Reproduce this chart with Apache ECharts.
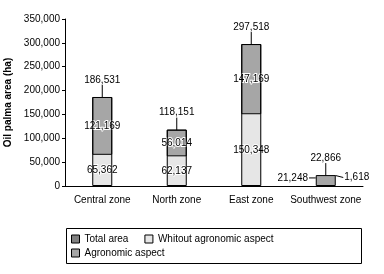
<!DOCTYPE html>
<html lang="en">
<head>
<meta charset="UTF-8">
<title>Oil palma area</title>
<style>
  html, body { margin: 0; padding: 0; background: #fff; }
  #main { width: 384px; height: 274px; }
</style>
</head>
<body>
<div id="main"></div>
<script src="https://cdn.jsdelivr.net/npm/echarts@6/dist/echarts.min.js"></script>
<script>
// data
var zones = ['Central zone', 'North zone', 'East zone', 'Southwest zone'];
var totalArea = [186531, 118151, 297518, 22866];
var withoutAgro = [65362, 62137, 150348, 21248];
var agro = [121169, 56014, 147169, 1618];

var FONT = "'Liberation Sans', Arial, sans-serif";
function fmt(v) { return v.toLocaleString('en-US'); }

// southwest segments sit behind the total bar, only their labels show
function segData(arr) {
    return arr.map(function (v, i) {
        if (i === 3) {
            return { value: v, itemStyle: { color: 'rgba(0,0,0,0)', borderColor: 'rgba(0,0,0,0)' } };
        }
        return v;
    });
}

// total bar is only an outline over the stacks, filled for southwest
var totalData = totalArea.map(function (v, i) {
    if (i === 3) return { value: v, itemStyle: { color: '#a6a6a6' } };
    return v;
});

var inLabel = {
    show: true,
    position: 'inside',
    fontFamily: FONT,
    fontSize: 10,
    color: '#000',
    textBorderColor: '#fff',
    textBorderWidth: 2,
    formatter: function (p) { return fmt(p.value); }
};

var chart = echarts.init(document.getElementById('main'));
var option = {
    animation: false,
    textStyle: { fontFamily: FONT },
    grid: { left: 65, right: 21, top: 19, bottom: 88, containLabel: false, outerBoundsMode: 'none' },
    xAxis: {
        type: 'category',
        data: zones,
        axisLine: { lineStyle: { color: '#000', width: 1 } },
        axisTick: { length: 4, lineStyle: { color: '#000' } },
        axisLabel: { color: '#000', fontSize: 10, margin: 9, interval: 0, fontFamily: FONT }
    },
    yAxis: {
        type: 'value',
        min: 0,
        max: 350000,
        interval: 50000,
        name: 'Oil palma area (ha)',
        nameLocation: 'middle',
        nameGap: 44,
        nameTextStyle: { color: '#000', fontWeight: 'bold', fontSize: 10, fontFamily: FONT },
        splitLine: { show: false },
        axisLine: { show: true, lineStyle: { color: '#000', width: 1 } },
        axisTick: { show: true, length: 3, lineStyle: { color: '#000' } },
        axisLabel: {
            color: '#000', fontSize: 10, margin: 5, fontFamily: FONT,
            formatter: function (v) { return fmt(v); }
        }
    },
    graphic: [{
        type: 'rect',
        shape: { x: 66.5, y: 228.5, width: 295, height: 35 },
        style: { fill: 'none', stroke: '#000', lineWidth: 1 }
    }],
    legend: [
        {
            left: 71,
            top: 234,
            padding: 0,
            icon: 'rect',
            itemWidth: 8,
            itemHeight: 8,
            itemGap: 16,
            selectedMode: false,
            textStyle: { color: '#000', fontSize: 10, fontFamily: FONT },
            data: [
                { name: 'Total area', itemStyle: { color: '#808080', borderColor: '#000', borderWidth: 1 } },
                { name: 'Whitout agronomic aspect', itemStyle: { color: '#e6e6e6', borderColor: '#000', borderWidth: 1 } }
            ]
        },
        {
            left: 71,
            top: 248,
            padding: 0,
            icon: 'rect',
            itemWidth: 8,
            itemHeight: 8,
            selectedMode: false,
            textStyle: { color: '#000', fontSize: 10, fontFamily: FONT },
            data: [
                { name: 'Agronomic aspect', itemStyle: { color: '#a6a6a6', borderColor: '#000', borderWidth: 1 } }
            ]
        }
    ],
    series: [
        {
            name: 'Whitout agronomic aspect',
            type: 'bar',
            stack: 'area',
            barWidth: 20,
            barGap: '-100%',
            data: segData(withoutAgro),
            itemStyle: { color: '#e6e6e6', borderWidth: 0 },
            label: inLabel,
            labelLayout: function (p) {
                if (p.dataIndex === 3) return { dx: -33, dy: -3 };
                return {};
            },
            labelLine: { show: true, lineStyle: { color: '#000', width: 1 } }
        },
        {
            name: 'Agronomic aspect',
            type: 'bar',
            stack: 'area',
            barWidth: 20,
            barGap: '-100%',
            data: segData(agro),
            itemStyle: { color: '#a6a6a6', borderColor: '#000', borderWidth: 1 },
            label: inLabel,
            labelLayout: function (p) {
                if (p.dataIndex === 3) return { dx: 31, dy: 2 };
                return {};
            },
            labelLine: { show: true, lineStyle: { color: '#000', width: 1 } }
        },
        {
            name: 'Total area',
            type: 'bar',
            barWidth: 20,
            barGap: '-100%',
            z: 3,
            data: totalData,
            itemStyle: { color: 'rgba(0,0,0,0)', borderColor: '#000', borderWidth: 1 },
            label: {
                show: true,
                position: 'top',
                distance: 2,
                fontFamily: FONT,
                fontSize: 10,
                color: '#000',
                formatter: function (p) { return fmt(p.value); }
            },
            labelLayout: function () { return { dy: -10 }; },
            labelLine: { show: true, lineStyle: { color: '#000', width: 1 } }
        }
    ]
};
chart.setOption(option);
</script>
</body>
</html>
